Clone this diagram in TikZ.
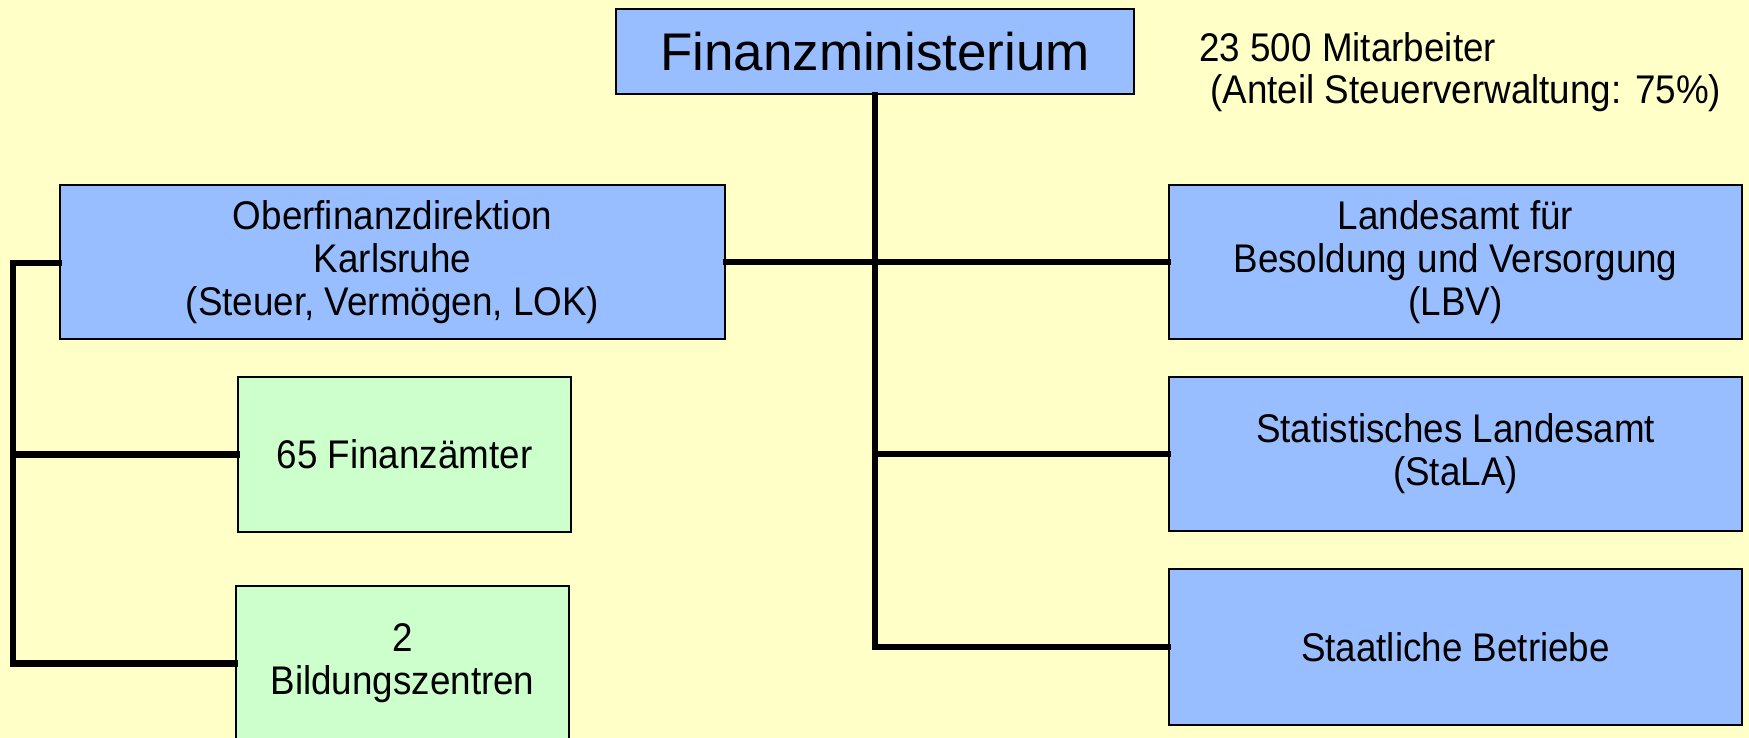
\documentclass[tikz,border=0pt]{standalone}
\usepackage{fontspec}
\setmainfont{Liberation Sans}
\newfontfamily\condfont[FakeStretch=0.92]{Liberation Sans}
\definecolor{bgyellow}{RGB}{255,255,200}
\definecolor{boxblue}{RGB}{153,190,255}
\definecolor{boxgreen}{RGB}{204,255,204}
\begin{document}
\begin{tikzpicture}[x=0.5pt,y=-0.5pt,
  orgbox/.style={draw=black, line width=1pt, rectangle, inner sep=0pt, align=center,
     font=\condfont\fontsize{20}{21.5}\selectfont},
  bluebox/.style={orgbox, fill=boxblue},
  greenbox/.style={orgbox, fill=boxgreen},
  link/.style={line width=3.1pt, line cap=rect}]
\useasboundingbox (0,0) rectangle (1749,738);
\fill[bgyellow] (0,0) rectangle (1749,738);
% nodes
\node[bluebox, minimum width=259pt, minimum height=42.5pt,
      font=\fontsize{26.5}{30}\selectfont] (fin) at (875,51.5) {Finanzministerium};
\node[bluebox, minimum width=332.5pt, minimum height=77pt] (ofd) at (392.5,262)
  {Oberfinanzdirektion\\Karlsruhe\\(Steuer, Vermögen, LOK)};
\node[bluebox, minimum width=286.5pt, minimum height=77pt] (lbv) at (1455.5,262)
  {Landesamt für\\Besoldung und Versorgung\\(LBV)};
\node[bluebox, minimum width=286.5pt, minimum height=77pt] (stala) at (1455.5,454)
  {Statistisches Landesamt\\(StaLA)};
\node[bluebox, minimum width=286.5pt, minimum height=78pt] (sb) at (1455.5,647)
  {Staatliche Betriebe};
\node[greenbox, minimum width=166.5pt, minimum height=77.5pt] (fa) at (404.5,454.5)
  {65 Finanzämter};
\node[greenbox, minimum width=166.5pt, minimum height=77.5pt] (bz) at (402.5,663.5)
  {2\\Bildungszentren};
\node[anchor=north west, inner sep=0pt, align=left,
      font=\condfont\fontsize{20}{21}\selectfont] (note) at (1199,32.4)
  {23 500 Mitarbeiter\\\hspace*{5.5pt}(Anteil Steuerverwaltung: 75\%)};
% connectors
\coordinate (bus) at (13,263);
\draw[link] (fin.south) |- (sb.west);
\draw[link] (ofd.east) -- (lbv.west);
\draw[link] (fin.south |- stala.west) -- (stala.west);
\draw[link] (ofd.west |- bus) -- (bus) |- (bz.west);
\draw[link] (bus |- fa.west) -- (fa.west);
\end{tikzpicture}
\end{document}
